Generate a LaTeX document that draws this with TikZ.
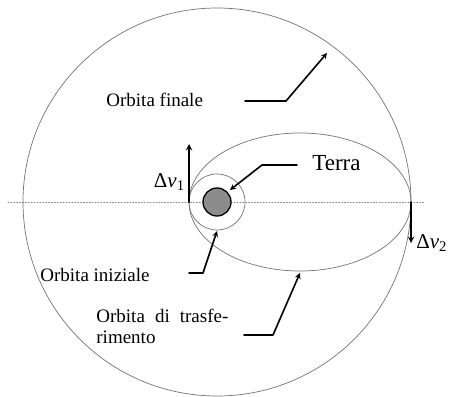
\documentclass[tikz,border=0pt]{standalone}
\usepackage{fontspec}
\setmainfont{Liberation Serif}
\begin{document}
\begin{tikzpicture}[x=1pt,y=-1pt,line join=round,line cap=round,>=stealth,thick]
	\tikzset{orbit/.style={draw=black!55,line width=0.7pt},
		leader/.style={->,line width=1.6pt},
		dv/.style={->,line width=1.8pt},
		lbl/.style={inner sep=0pt,font=\fontsize{19}{21}\selectfont}}
	\useasboundingbox (0,0) rectangle (449,396);
	% centri
	\coordinate (C) at (217,202);
	\coordinate (E) at (300,202);
	\draw[black!50,dotted,line width=0.9pt] (8,202)--(425,202);
	\draw[orbit] (C) circle (194pt);
	\draw[orbit] (E) ellipse (111pt and 69pt);
	\draw[orbit] (C) circle (28pt);
	\draw[line width=1.3pt,fill=black!45] (C) circle (14pt);
	% impulsi
	\coordinate (P) at (189,202);
	\coordinate (A) at (411,202);
	\draw[dv] (P)--(189,144);
	\draw[dv] (A)--(411,243);
	\node[lbl,anchor=base east,font=\fontsize{21}{23}\selectfont] (dv1) at (185,187) {Δ\textit{v}\textsubscript{1}};
	\node[lbl,anchor=base west,font=\fontsize{21}{23}\selectfont] (dv2) at (416,248) {Δ\textit{v}\textsubscript{2}};
	% etichette
	\node[lbl,anchor=base west,font=\fontsize{23}{25}\selectfont] (terra) at (312,170) {Terra};
	\node[lbl,anchor=base west] (fin) at (106,106) {Orbita finale};
	\node[lbl,anchor=base west] (ini) at (40,281) {Orbita iniziale};
	\node[lbl,anchor=base west,text width=132pt,align=left] (tra) at (96,322) {Orbita\hfill di\hfill trasfe-\\rimento};
	% frecce
	\foreach \a/\b/\c in {{245,101}/{286,101}/{327,53},{297,165}/{262,165}/{230,190},{189,273}/{203,273}/{217,231},{244,335}/{273,335}/{300,273}}
	\draw[leader] (\a)--(\b)--(\c);
\end{tikzpicture}
\end{document}
